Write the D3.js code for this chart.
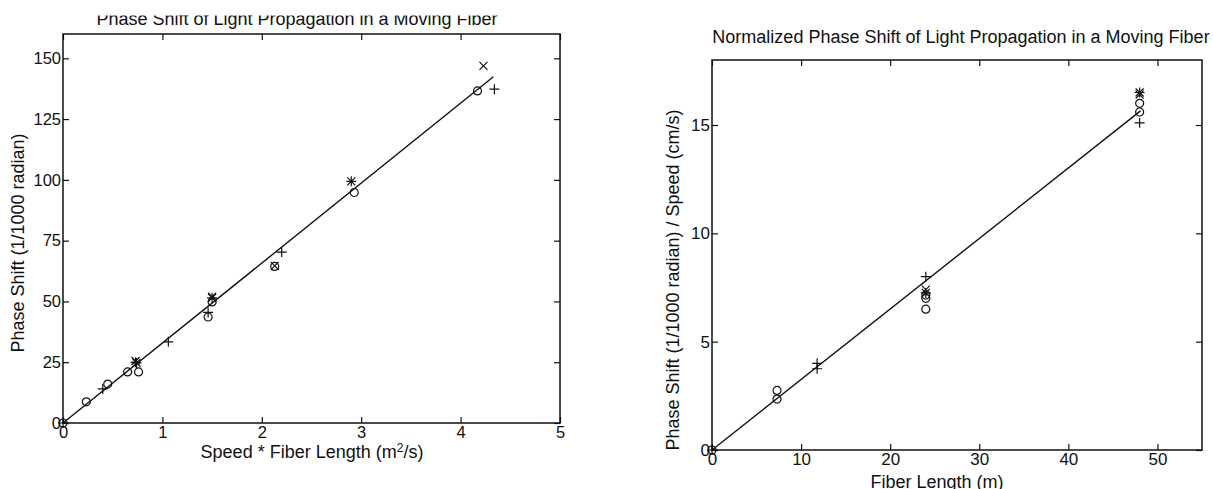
<!DOCTYPE html>
<html>
<head>
<meta charset="utf-8">
<script src="https://cdn.jsdelivr.net/npm/d3@7"></script>
<style>
    body { margin: 0; background: #fff; }
    svg text { font-family: 'Liberation Sans', Arial, sans-serif; fill: #111; }
    .tick line { stroke: #111; stroke-width: 1.2; }
    .frame { fill: none; stroke: #111; stroke-width: 1.5; }
    .fit { fill: none; stroke: #111; stroke-width: 1.4; }
    .marker { fill: none; stroke: #111; stroke-width: 1.2; }
</style>
</head>
<body>
<div id="graph"></div>
<script>

// ---- left plot data : phase shift vs speed * fiber length ----
var leftCircle = [ [0, 0], [0.235, 8.7], [0.45, 16], [0.65, 21], [0.76, 21], [1.46, 43.6],
                   [1.5, 49.8], [2.13, 64.4], [2.93, 94.8], [4.17, 136.6] ];
var leftPlus   = [ [0, 0], [0.40, 14], [0.73, 25], [1.06, 33.4], [1.46, 45.5], [2.2, 70.3], [4.34, 137.3] ];
var leftCross  = [ [0.73, 25.5], [1.5, 52], [2.13, 64.6], [4.23, 146.9] ];
var leftStar   = [ [0.74, 24.7], [1.5, 51.5], [2.9, 99.4] ];
var leftFit    = [ [0, 0], [4.33, 142.4] ];

var leftXTicks = [ 0, 1, 2, 3, 4, 5 ];
var leftYTicks = [ 0, 25, 50, 75, 100, 125, 150 ];

// ---- right plot data : normalized phase shift vs fiber length ----
var rightCircle = [ [0, 0], [7.3, 2.75], [7.3, 2.35], [24, 7.15], [24, 7.0], [24, 6.5], [48, 16.0], [48, 15.6] ];
var rightPlus   = [ [0, 0], [11.8, 4.0], [11.8, 3.75], [24, 8.0], [48, 15.1] ];
var rightCross  = [ [24, 7.4], [48, 16.4] ];
var rightStar   = [ [24, 7.25], [48, 16.5] ];
var rightFit    = [ [0, 0], [48.1, 15.65] ];

var rightXTicks = [ 0, 10, 20, 30, 40, 50 ];
var rightYTicks = [ 0, 5, 10, 15 ];


function D3App ()
{
    var svg = d3.select ('#graph')
                .append ('svg')
                .attr ('width', 1213)
                .attr ('height', 489);

    // clip for the left title, whose top was cut off in the scan
    svg.append ('defs')
       .append ('clipPath')
       .attr ('id', 'titleClip')
       .append ('rect')
       .attr ('x', 0).attr ('y', 15.5)
       .attr ('width', 640).attr ('height', 20);

    DrawPlot (svg, {
        left: 63, top: 34, width: 497, height: 389,
        xDomain: [0, 5], yDomain: [0, 160],
        xTicks: leftXTicks, yTicks: leftYTicks,
        series: [ [leftCircle, 'circle'], [leftPlus, 'plus'], [leftCross, 'cross'], [leftStar, 'star'] ],
        fit: leftFit,
        tickFont: 16.5
    });

    DrawPlot (svg, {
        left: 712, top: 60, width: 490, height: 390,
        xDomain: [0, 55], yDomain: [0, 18],
        xTicks: rightXTicks, yTicks: rightYTicks,
        series: [ [rightCircle, 'circle'], [rightPlus, 'plus'], [rightCross, 'cross'], [rightStar, 'star'] ],
        fit: rightFit,
        tickFont: 17
    });

    // titles
    svg.append ('text')
       .attr ('x', 297).attr ('y', 25)
       .attr ('text-anchor', 'middle')
       .attr ('clip-path', 'url(#titleClip)')
       .style ('font-size', '18px')
       .text ('Phase Shift of Light Propagation in a Moving Fiber');

    svg.append ('text')
       .attr ('x', 961).attr ('y', 43)
       .attr ('text-anchor', 'middle')
       .style ('font-size', '18px')
       .text ('Normalized Phase Shift of Light Propagation in a Moving Fiber');

    // axis labels
    var xl = svg.append ('text')
                .attr ('x', 312).attr ('y', 458)
                .attr ('text-anchor', 'middle')
                .style ('font-size', '18px');
    xl.append ('tspan').text ('Speed * Fiber Length (m');
    xl.append ('tspan').attr ('dy', -6).style ('font-size', '12px').text ('2');
    xl.append ('tspan').attr ('dy', 6).text ('/s)');

    svg.append ('text')
       .attr ('transform', 'translate(24,243) rotate(-90)')
       .attr ('text-anchor', 'middle')
       .style ('font-size', '18px')
       .text ('Phase Shift (1/1000 radian)');

    svg.append ('text')
       .attr ('x', 937).attr ('y', 488)
       .attr ('text-anchor', 'middle')
       .style ('font-size', '18px')
       .text ('Fiber Length (m)');

    svg.append ('text')
       .attr ('transform', 'translate(679,280) rotate(-90)')
       .attr ('text-anchor', 'middle')
       .style ('font-size', '18px')
       .text ('Phase Shift (1/1000 radian) / Speed (cm/s)');
}


function DrawPlot (svg, cfg)
{
    var g = svg.append ('g')
               .attr ('transform', 'translate(' + cfg.left + ',' + cfg.top + ')');

    var xScale = d3.scaleLinear ().domain (cfg.xDomain).range ([0, cfg.width]);
    var yScale = d3.scaleLinear ().domain (cfg.yDomain).range ([cfg.height, 0]);

    // inward ticks on all four sides, matlab style
    var sides = [ [d3.axisBottom (xScale), 'translate(0,' + cfg.height + ')', cfg.xTicks, true, 3],
                  [d3.axisTop (xScale),    'translate(0,0)',                  cfg.xTicks, false, 3],
                  [d3.axisLeft (yScale),   'translate(0,0)',                  cfg.yTicks, true, 2],
                  [d3.axisRight (yScale),  'translate(' + cfg.width + ',0)',  cfg.yTicks, false, 2] ];

    sides.forEach (function (s)
    {
        var axis = s[0].tickValues (s[2])
                       .tickSizeInner (-6)
                       .tickSizeOuter (0)
                       .tickPadding (s[4])
                       .tickFormat (s[3] ? d3.format ('d') : '');

        var ag = g.append ('g')
                  .attr ('transform', s[1])
                  .call (axis);
        ag.select ('.domain').remove ();
        ag.selectAll ('text')
          .style ('font-size', cfg.tickFont + 'px')
          .style ('font-family', "'Liberation Sans', Arial, sans-serif")
          .attr ('fill', '#111');
    });

    g.append ('rect')
     .attr ('class', 'frame')
     .attr ('width', cfg.width)
     .attr ('height', cfg.height);

    // least squares line
    var line = d3.line ()
                 .x (function (d) { return xScale (d[0]); })
                 .y (function (d) { return yScale (d[1]); });

    g.append ('path')
     .datum (cfg.fit)
     .attr ('class', 'fit')
     .attr ('d', line);

    // marker shapes
    var shapes = {
        circle: 'M4,0A4,4 0 1,1 -4,0A4,4 0 1,1 4,0Z',
        plus:   'M-5,0H5M0,-5V5',
        cross:  'M-4,-4L4,4M-4,4L4,-4',
        star:   'M-5,0H5M0,-5V5M-4,-4L4,4M-4,4L4,-4'
    };

    cfg.series.forEach (function (s)
    {
        g.selectAll (null)
         .data (s[0])
         .enter ()
         .append ('path')
         .attr ('class', 'marker')
         .attr ('transform', function (d) { return 'translate(' + xScale (d[0]) + ',' + yScale (d[1]) + ')'; })
         .attr ('d', shapes[s[1]]);
    });
}

D3App ();

</script>
</body>
</html>
